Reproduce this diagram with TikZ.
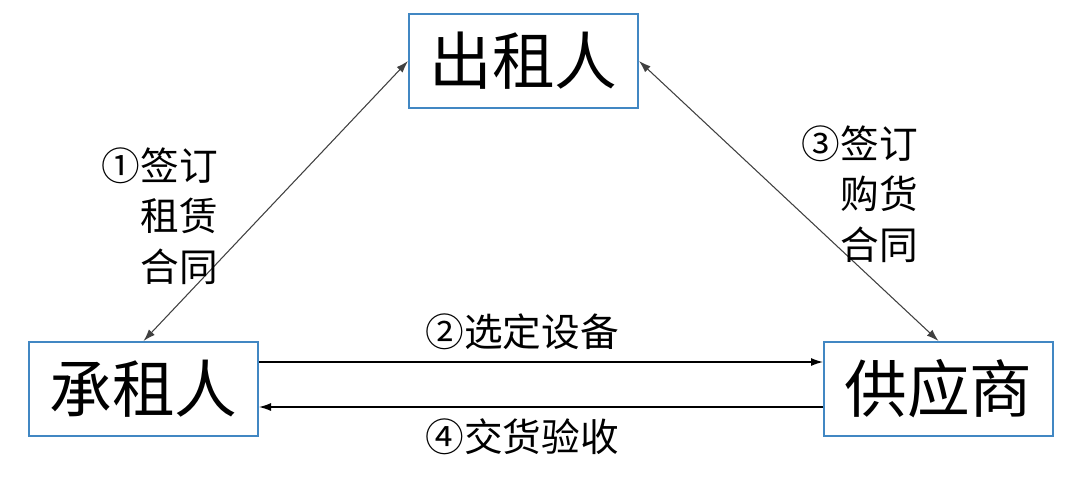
\documentclass[tikz,border=0pt]{standalone}
\usepackage{fontspec}
\usepackage{tikz}
\usetikzlibrary{arrows.meta}
\usetikzlibrary{positioning}
\newfontfamily\cjk{Noto Sans CJK SC}
\definecolor{boxblue}{RGB}{65,135,195}
\tikzset{party/.style = {draw = boxblue, line width = 1.5pt, minimum width = 171.75pt, minimum height = 70.5pt, inner sep = 0, font = \cjk\fontsize{47}{56}\selectfont},
  step label/.style = {align = right, inner sep = 0, font = \cjk\fontsize{29}{38}\selectfont},
  link/.style = {line width = 0.8pt, color = black!75, {Latex[length = 9pt, width = 6pt]}-{Latex[length = 9pt, width = 6pt]}},
  flow/.style = {line width = 0.9pt, -{Latex[length = 9pt, width = 6pt]}}}

\begin{document}
\begin{tikzpicture}[x = 0.75pt, y = -0.75pt]
      \useasboundingbox (0, 0) rectangle (1080, 483);
      \node [party] (lessor) at (523.5, 61) {出租人};
      \node [party] (lessee) at (143.5, 389) {承租人};
      \node [party] (supplier) at (938.5, 389) {供应商};
      \draw [link] (lessor.west) -- (lessee.north);
      \draw [link] (lessor.east) -- (supplier.north);
      \draw [flow] ([yshift = 20.25pt]lessee.east) -- ([yshift = 20.25pt]supplier.west);
      \draw [flow] ([yshift = -13.5pt]supplier.west) -- ([yshift = -13.5pt]lessee.east);
      \node [step label, anchor = east] (lease) at (218, 216) {①签订\\租赁\\合同};
      \node [step label, anchor = east] (purchase) at (918, 194) {③签订\\购货\\合同};
      \node [step label] (select) at (522, 332) {②选定设备};
      \node [step label] (accept) at (522, 437) {④交货验收};
    \end{tikzpicture}
\end{document}
